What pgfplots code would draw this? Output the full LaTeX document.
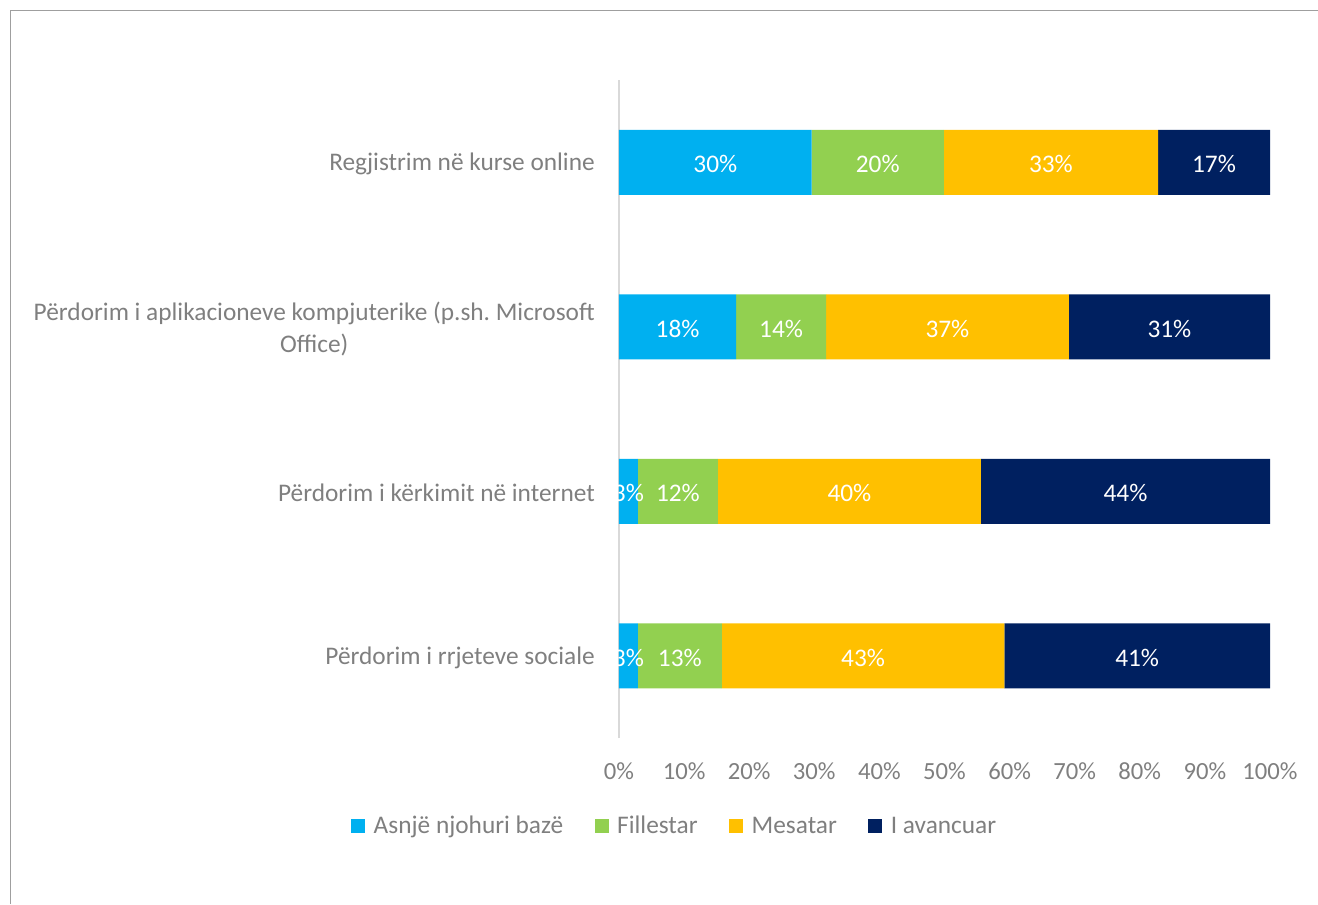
\documentclass[border=0pt]{standalone}
\usepackage{pgfplots}
\usepackage{pgfplotstable}
\usepackage{fontspec}
\setmainfont{Carlito}
\pgfplotsset{compat=1.18}
\frenchspacing

\definecolor{cBlue}{HTML}{00B0F0}
\definecolor{cGreen}{HTML}{92D050}
\definecolor{cOrange}{HTML}{FFC000}
\definecolor{cNavy}{HTML}{002060}
\definecolor{txt}{HTML}{7F7F7F}
\definecolor{axgray}{HTML}{D9D9D9}

% shares per row, bottom row first
\pgfplotstableread{
y a b c d
0 2.9 12.9 43.4 40.8
1 2.9 12.3 40.4 44.4
2 18.0 13.8 37.3 30.9
3 29.6 20.3 32.9 17.2
}\datatable

\pgfplotsset{
  seg/.style 2 args={
    fill=#1, draw=none,
    visualization depends on={\thisrow{#2} \as \v},
    nodes near coords={\pgfmathprintnumber[fixed,precision=0,assume math mode=true]{\v}\%},
    every node near coord/.append style={anchor=center, text=white,
      font=\fontsize{19}{23}\selectfont, yshift=-1.5pt},
  },
}

\begin{document}
\begin{tikzpicture}
\path[use as bounding box] (0,0) rectangle (988.5pt,-678pt);
\draw[color=gray!75, line width=0.6pt] (7.5pt,-678pt) -- (7.5pt,-7.5pt) -- (988.5pt,-7.5pt);

\begin{axis}[
  at={(464.25pt,-553.5pt)}, anchor=south west,
  scale only axis,
  width=488.25pt, height=493.5pt,
  xbar stacked,
  bar width=48.75pt,
  xmin=0, xmax=100,
  ymin=-0.5, ymax=3.5,
  axis lines*=left,
  x axis line style={draw=none},
  y axis line style={draw=axgray, line width=1.5pt},
  major tick length=0pt,
  xtick={0,10,...,100},
  xticklabel={\pgfmathprintnumber[assume math mode=true]{\tick}\%},
  xticklabel style={inner sep=0pt, anchor=north, yshift=-18.5pt,
    text=txt, font=\fontsize{18.5}{22}\selectfont},
  ytick={0,1,2,3},
  yticklabels={Përdorim i rrjeteve sociale, Përdorim i kërkimit në internet,
    {Përdorim i aplikacioneve kompjuterike (p.sh. Microsoft\\Office)},
    Regjistrim në kurse online},
  yticklabel style={inner sep=0pt, anchor=east, xshift=-18pt, yshift=-1.5pt,
    align=center, text=txt, font=\fontsize{19}{24}\selectfont},
  legend columns=4,
  legend style={at={(0.086,-0.134)}, anchor=center, draw=none, fill=none,
    text=txt, font=\fontsize{19}{23}\selectfont,
    /tikz/every odd column/.append style={column sep=4.5pt},
    /tikz/every even column/.append style={column sep=21.5pt}},
  legend image code/.code={\fill[#1] (0pt,-5.25pt) rectangle (10.5pt,5.25pt);},
]
\addplot[seg={cBlue}{a}] table[x=a, y=y] {\datatable};
\addlegendentry{Asnjë njohuri bazë}
\addplot[seg={cGreen}{b}] table[x=b, y=y] {\datatable};
\addlegendentry{Fillestar}
\addplot[seg={cOrange}{c}] table[x=c, y=y] {\datatable};
\addlegendentry{Mesatar}
\addplot[seg={cNavy}{d}] table[x=d, y=y] {\datatable};
\addlegendentry{I avancuar}
\end{axis}
\end{tikzpicture}
\end{document}
